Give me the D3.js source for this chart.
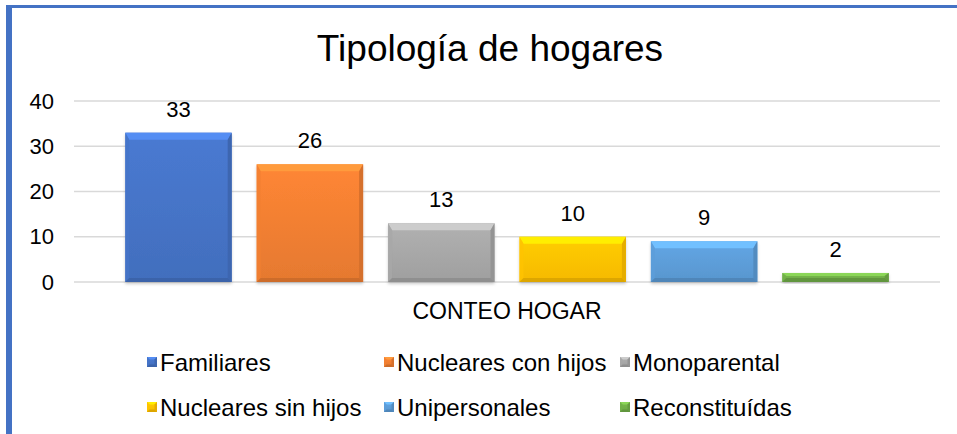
<!DOCTYPE html>
<html>
<head>
<meta charset="utf-8">
<script src="https://cdn.jsdelivr.net/npm/d3@7"></script>
<style>
  html, body { margin: 0; padding: 0; background: #fff; }
  svg { display: block; font-family: "Liberation Sans", Arial, sans-serif; }
</style>
</head>
<body>
<div id="chart"></div>
<script>
// Chart data
const title = 'Tipología de hogares';
const category = 'CONTEO HOGAR';
const series = ['Familiares', 'Nucleares con hijos', 'Monoparental', 'Nucleares sin hijos', 'Unipersonales', 'Reconstituídas'];
const values = [33, 26, 13, 10, 9, 2];
const colors = ['#4472c4', '#ed7d31', '#a5a5a5', '#ffc000', '#5b9bd5', '#70ad47'];
const yTicks = [0, 10, 20, 30, 40];

const width = 957, height = 434;
const plot = { left: 74, right: 940, top: 101, bottom: 282 };

const svg = d3.select('#chart').append('svg')
  .attr('width', width)
  .attr('height', height);

const defs = svg.append('defs');

// frame (blue lines at top and left)
svg.append('rect').attr('x', 6).attr('y', 5).attr('width', width - 6).attr('height', 3).attr('fill', '#4472c4');
svg.append('rect').attr('x', 6).attr('y', 5).attr('width', 6).attr('height', height - 5).attr('fill', '#4472c4');

// scales
const y = d3.scaleLinear().domain([0, 40]).range([plot.bottom, plot.top]);
const x = d3.scaleBand().domain(series).range([plot.left, plot.right])
  .paddingInner(0.19).paddingOuter(0.39);

// title
svg.append('text')
  .attr('x', 490).attr('y', 61)
  .attr('text-anchor', 'middle')
  .attr('font-size', 37)
  .attr('fill', '#000')
  .text(title);

// gridlines
svg.append('g').selectAll('line')
  .data(yTicks)
  .enter().append('line')
  .attr('x1', plot.left).attr('x2', plot.right)
  .attr('y1', d => y(d)).attr('y2', d => y(d))
  .attr('stroke', '#d9d9d9')
  .attr('stroke-width', 1.5);

// y axis labels
const yAxis = svg.append('g')
  .attr('transform', `translate(${plot.left - 20},0)`)
  .call(d3.axisLeft(y).tickValues(yTicks).tickSize(0).tickPadding(0));
yAxis.select('.domain').remove();
yAxis.selectAll('text')
  .attr('font-size', 22)
  .attr('font-family', '"Liberation Sans", Arial, sans-serif')
  .attr('fill', '#000');

// gradients for the bevelled look
colors.forEach((c, i) => {
  const g = defs.append('linearGradient')
    .attr('id', 'grad' + i)
    .attr('x1', 0).attr('y1', 0).attr('x2', 0).attr('y2', 1);
  g.append('stop').attr('offset', '0%').attr('stop-color', d3.color(c).brighter(0.2));
  g.append('stop').attr('offset', '100%').attr('stop-color', d3.color(c).darker(0.1));
});

// shadow
defs.append('filter').attr('id', 'shadow')
  .attr('x', '-10%').attr('y', '-10%').attr('width', '120%').attr('height', '130%')
  .append('feDropShadow')
  .attr('dx', 0).attr('dy', 2).attr('stdDeviation', 1.5)
  .attr('flood-color', '#000').attr('flood-opacity', 0.2);

function drawBar(g, x0, y0, w, h, i) {
  const c = colors[i];
  const b = Math.min(7, h / 3, w / 4);
  const s = Math.min(4, w / 4);
  g.append('rect')
    .attr('x', x0).attr('y', y0).attr('width', w).attr('height', h)
    .attr('fill', `url(#grad${i})`)
    .attr('filter', 'url(#shadow)');
  // top bevel
  g.append('polygon')
    .attr('points', [[x0, y0], [x0 + w, y0], [x0 + w - s, y0 + b], [x0 + s, y0 + b]].join(' '))
    .attr('fill', d3.color(c).brighter(0.6));
  // left bevel
  g.append('polygon')
    .attr('points', [[x0, y0], [x0 + s, y0 + b], [x0 + s, y0 + h - s], [x0, y0 + h]].join(' '))
    .attr('fill', d3.color(c).brighter(0.05)).attr('opacity', 0.8);
  // right bevel
  g.append('polygon')
    .attr('points', [[x0 + w, y0], [x0 + w - s, y0 + b], [x0 + w - s, y0 + h - s], [x0 + w, y0 + h]].join(' '))
    .attr('fill', d3.color(c).darker(0.3));
  // bottom bevel
  g.append('polygon')
    .attr('points', [[x0, y0 + h], [x0 + s, y0 + h - s], [x0 + w - s, y0 + h - s], [x0 + w, y0 + h]].join(' '))
    .attr('fill', d3.color(c).darker(0.4));
}

const bars = svg.append('g');
series.forEach((s, i) => {
  const g = bars.append('g');
  const top = y(values[i]);
  drawBar(g, x(s), top, x.bandwidth(), y(0) - top, i);
});

// value labels
svg.append('g').selectAll('text')
  .data(series)
  .enter().append('text')
  .attr('x', d => x(d) + x.bandwidth() / 2)
  .attr('y', (d, i) => y(values[i]) - 16)
  .attr('text-anchor', 'middle')
  .attr('font-size', 22)
  .attr('fill', '#000')
  .text((d, i) => values[i]);

// category label
svg.append('text')
  .attr('x', (plot.left + plot.right) / 2)
  .attr('y', 319)
  .attr('text-anchor', 'middle')
  .attr('font-size', 23)
  .attr('fill', '#000')
  .text(category);

// legend
const legendCols = [147, 384, 620];
const legendRows = [371, 416];
const legend = svg.append('g');
series.forEach((s, i) => {
  const lx = legendCols[i % 3];
  const ly = legendRows[Math.floor(i / 3)];
  const g = legend.append('g');
  drawBar(g, lx, ly - 14, 10, 10, i);
  g.select('rect').attr('filter', null);
  g.append('text')
    .attr('x', lx + 13)
    .attr('y', ly)
    .attr('font-size', 24)
    .attr('fill', '#000')
    .text(s);
});
</script>
</body>
</html>
